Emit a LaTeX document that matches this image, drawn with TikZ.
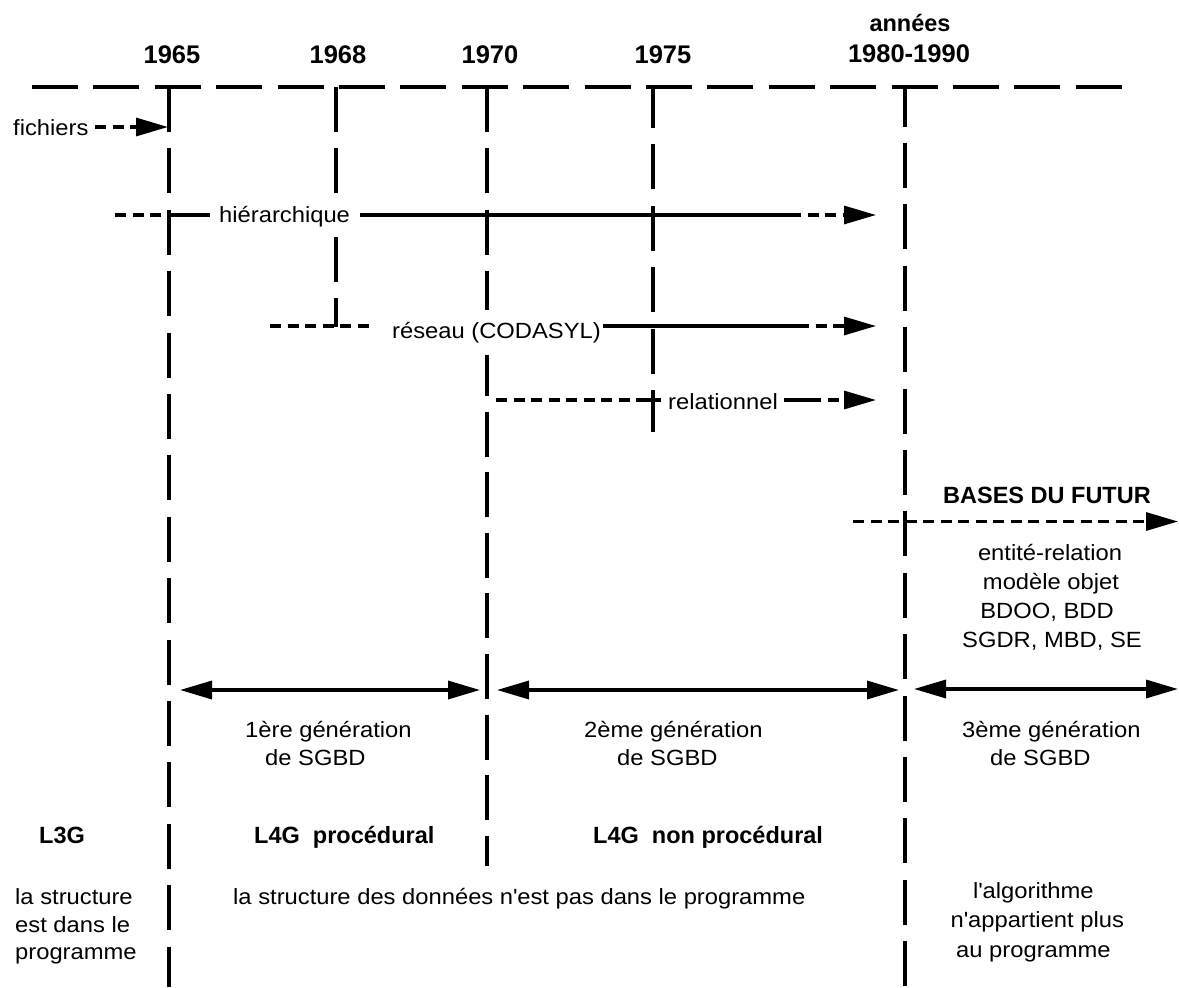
\documentclass[tikz,border=0pt]{standalone}
\usepackage{fontspec}
\setmainfont{Liberation Sans}
\newfontfamily\nrm{Liberation Sans}[FakeStretch=1.08]
\usetikzlibrary{arrows.meta}
\begin{document}
\begin{tikzpicture}[x=1pt,y=-1pt,
  txt/.style={inner sep=0pt, font=\nrm\fontsize{22}{26}\selectfont},
  lbl/.style={inner sep=0pt, font=\fontsize{23.5}{28}\selectfont\bfseries},
  yr/.style={inner sep=0pt, font=\fontsize{25.5}{30}\selectfont\bfseries},
  axis/.style={line width=3.6pt, dash pattern=on 46pt off 15.4pt},
  epoch/.style={line width=3.3pt, dash pattern=on 45pt off 16.4pt},
  flow/.style={line width=3.4pt},
  fade/.style={line width=3.2pt, dash pattern=on 11pt off 6.5pt},
  head/.style={-{Triangle[length=32pt,width=18pt]}},
  twohead/.style={{Triangle[length=32pt,width=18pt]}-{Triangle[length=32pt,width=18pt]}}
]
\fill[white] (0,0) rectangle (1179,988);
\useasboundingbox (0,0) rectangle (1179,988);

% time axis
\coordinate (axL) at (32,87);
\coordinate (axR) at (1122,87);
\draw[axis] (axL) -- (axR);

% year marks
\node[yr, anchor=base] (y65) at (172,63) {1965};
\node[yr, anchor=base] (y68) at (338,63) {1968};
\node[yr, anchor=base] (y70) at (490,63) {1970};
\node[yr, anchor=base] (y75) at (663,63) {1975};
\node[lbl, anchor=base] (y80a) at (910,31.5) {années};
\node[yr, anchor=base] (y80) at (909,62) {1980-1990};

% epoch separators
\coordinate (t65) at (169,87);  \coordinate (b65) at (169,987);
\draw[epoch] (t65) -- (b65);

\coordinate (t68) at (336,87);  \coordinate (m68a) at (336,194);
\coordinate (m68b) at (336,237); \coordinate (b68) at (336,327);
\draw[epoch] (t68) -- (m68a);
\draw[epoch] (m68b) -- (b68);

\coordinate (t70) at (487,87);  \coordinate (m70a) at (487,310);
\coordinate (m70b) at (487,355); \coordinate (b70) at (487,866);
\draw[epoch] (t70) -- (m70a);
\draw[epoch, dash pattern=on 45pt off 15.6pt, dash phase=4pt] (m70b) -- (b70);

\coordinate (t75) at (653,87);  \coordinate (b75) at (653,432);
\draw[epoch, dash phase=4pt] (t75) -- (b75);

\coordinate (t80) at (905,87);  \coordinate (b80) at (905,987);
\draw[epoch, dash phase=5.5pt] (t80) -- (b80);

% files
\node[txt, anchor=base west] (fich) at (13,135) {fichiers};
\coordinate (f0) at (95,127); \coordinate (f1) at (168,127);
\draw[fade, head] (f0) -- (f1);

% hierarchical model
\node[txt, anchor=base west] (hier) at (219,222) {hiérarchique};
\coordinate (h0) at (115,215); \coordinate (h1) at (169,215);
\coordinate (h2) at (210,215); \coordinate (h3) at (360,215);
\coordinate (h4) at (801,215); \coordinate (h5) at (876,215);
\draw[fade] (h0) -- (h1);
\draw[flow] (h1) -- (h2);
\draw[flow] (h3) -- (h4);
\draw[fade, dash phase=11pt, head] (h4) -- (h5);

% network model
\node[txt, anchor=base west] (res) at (392,338) {réseau (CODASYL)};
\coordinate (r0) at (270,326); \coordinate (r1) at (373,326);
\coordinate (r2) at (603,326); \coordinate (r3) at (809,326);
\coordinate (r4) at (876,326);
\draw[fade] (r0) -- (r1);
\draw[flow] (r2) -- (r3);
\draw[fade, dash phase=11pt, head] (r3) -- (r4);

% relational model
\node[txt, anchor=base west] (rel) at (668,409) {relationnel};
\coordinate (l0) at (496,400); \coordinate (l1) at (645,400);
\coordinate (l2) at (661,400); \coordinate (l3) at (784,400);
\coordinate (l4) at (821,400); \coordinate (l5) at (876,400);
\draw[fade] (l0) -- (l1);
\draw[flow] (l1) -- (l2);
\draw[flow] (l3) -- (l4);
\draw[fade, dash phase=11pt, head] (l4) -- (l5);

% future bases
\node[lbl, anchor=base] (fut) at (1047,503) {BASES DU FUTUR};
\coordinate (fu0) at (853,521.5); \coordinate (fu1) at (1178,521.5);
\draw[fade, head] (fu0) -- (fu1);
\node[txt, anchor=base] (m1) at (1050,560) {entité-relation};
\node[txt, anchor=base] (m2) at (1051,589) {modèle objet};
\node[txt, anchor=base] (m3) at (1047,618) {BDOO, BDD};
\node[txt, anchor=base] (m4) at (1052,647) {SGDR, MBD, SE};

% DBMS generations
\coordinate (g1a) at (180,690); \coordinate (g1b) at (480,690);
\coordinate (g2a) at (497,690); \coordinate (g2b) at (899,690);
\coordinate (g3a) at (914,689); \coordinate (g3b) at (1178,689);
\draw[flow, twohead] (g1a) -- (g1b);
\draw[flow, twohead] (g2a) -- (g2b);
\draw[flow, twohead] (g3a) -- (g3b);
\node[txt, anchor=base west] (gen1) at (245,737) {1ère génération};
\node[txt, anchor=base west] (gen1b) at (265,765) {de SGBD};
\node[txt, anchor=base west] (gen2) at (584,737) {2ème génération};
\node[txt, anchor=base west] (gen2b) at (617,765) {de SGBD};
\node[txt, anchor=base west] (gen3) at (962,737) {3ème génération};
\node[txt, anchor=base west] (gen3b) at (990,765) {de SGBD};

% languages
\node[lbl, anchor=base] (l3g) at (62,843) {L3G};
\node[lbl, anchor=base west] (l4p) at (254,843) {L4G\ \ procédural};
\node[lbl, anchor=base west] (l4n) at (593,843) {L4G\ \ non procédural};

% where the structure lives
\node[txt, anchor=base west] (s1) at (15,904) {la structure};
\node[txt, anchor=base west] (s2) at (15,932) {est dans le};
\node[txt, anchor=base west] (s3) at (15,959) {programme};
\node[txt, anchor=base west] (sd) at (233,904) {la structure des données n\textquotesingle est pas dans le programme};
\node[txt, anchor=base west] (a1) at (973,898) {l\textquotesingle algorithme};
\node[txt, anchor=base west] (a2) at (950.5,927.5) {n\textquotesingle appartient plus};
\node[txt, anchor=base west] (a3) at (956,957) {au programme};
\end{tikzpicture}
\end{document}
